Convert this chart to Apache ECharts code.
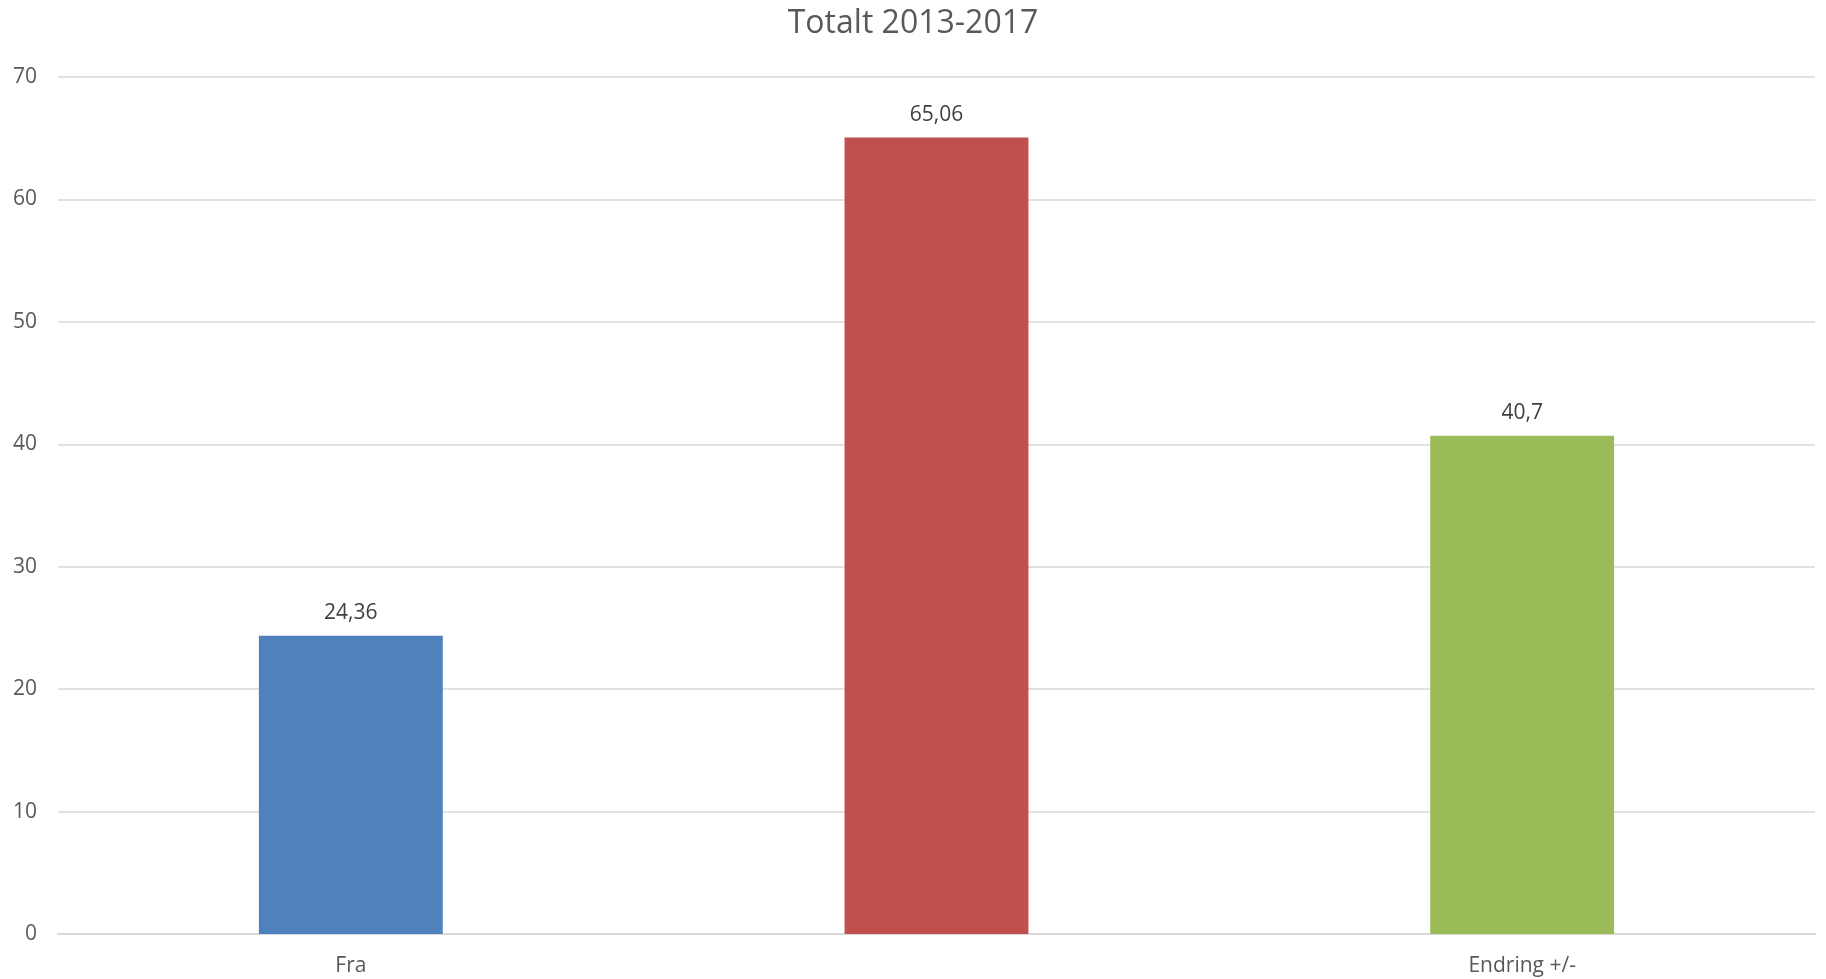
<!DOCTYPE html>
<html>
<head>
<meta charset="utf-8">
<script src="https://cdn.jsdelivr.net/npm/echarts@6/dist/echarts.min.js"></script>
<style>
  html, body { margin: 0; padding: 0; background: #ffffff; }
  #chart { width: 1826px; height: 979px; }
</style>
</head>
<body>
<div id="chart"></div>
<script>
// Total figures 2013-2017
const titleText = 'Totalt 2013-2017';
const categories = ['Fra', '', 'Endring +/-'];
const values = [24.36, 65.06, 40.7];
const barColors = ['#4F81BD', '#C0504D', '#9BBB59'];
const yTicks = { min: 0, max: 70, interval: 10 };

const fontFamily = '"Open Sans", "Noto Sans", sans-serif';
const chart = echarts.init(document.getElementById('chart'));

chart.setOption({
  animation: false,
  backgroundColor: '#ffffff',
  title: {
    text: titleText,
    left: 'center',
    top: 3,
    padding: [5, 0, 5, 12],
    textStyle: { fontFamily, fontSize: 32, fontWeight: 'normal', color: '#595959' }
  },
  grid: { left: 58, right: 11, top: 77, bottom: 45, containLabel: false },
  xAxis: {
    type: 'category',
    data: categories,
    axisLine: { show: true, lineStyle: { color: '#d9d9d9', width: 2 } },
    axisTick: { show: false },
    axisLabel: { fontFamily, fontSize: 21, color: '#595959', margin: 22 }
  },
  yAxis: {
    type: 'value',
    min: yTicks.min,
    max: yTicks.max,
    interval: yTicks.interval,
    axisLine: { show: false },
    axisTick: { show: false },
    splitLine: { lineStyle: { color: '#d9d9d9', width: 1.5 } },
    axisLabel: { fontFamily, fontSize: 21, color: '#595959', margin: 21 }
  },
  series: [{
    type: 'bar',
    data: values.map((v, i) => ({ value: v, itemStyle: { color: barColors[i] } })),
    barWidth: '31.4%',
    label: {
      show: true,
      position: 'top',
      distance: 12,
      fontFamily,
      fontSize: 21,
      color: '#404040',
      formatter: p => String(p.value).replace('.', ',')
    }
  }]
});
</script>
</body>
</html>
